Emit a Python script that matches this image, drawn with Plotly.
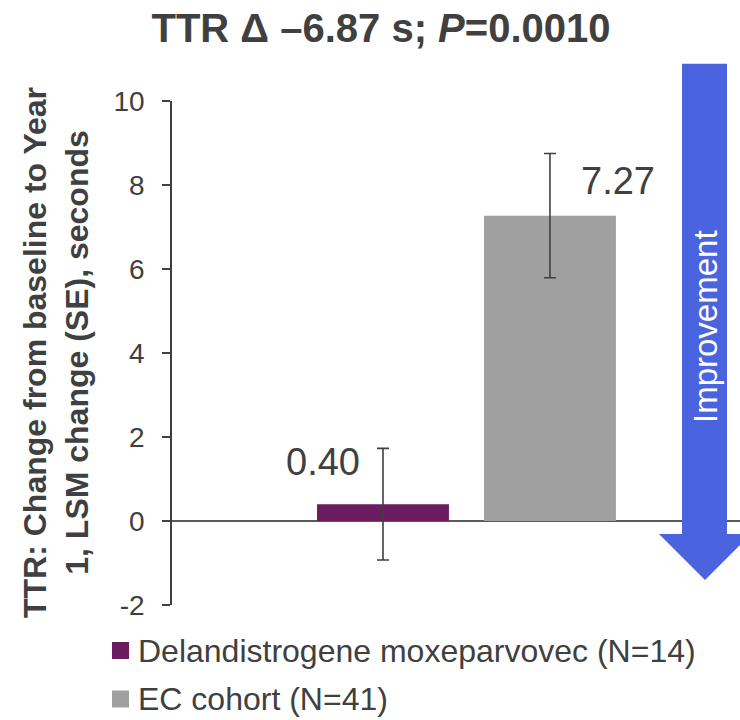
import plotly.graph_objects as go

# Time-to-rise (TTR): change from baseline to Year 1, LSM change with SE
groups = ["Delandistrogene moxeparvovec (N=14)", "EC cohort (N=41)"]
lsm_change = [0.40, 7.27]
std_error = [1.33, 1.48]
bar_colors = ["#6B1C61", "#A0A0A0"]

y_ticks = [-2, 0, 2, 4, 6, 8, 10]
y_tick_labels = [str(v) for v in y_ticks]

TEXT = "#404040"
SANS = "Liberation Sans, Arial, sans-serif"

W, H = 740, 720
M_L, M_R, M_T, M_B = 172, 0, 101, 115
PLOT_W, PLOT_H = W - M_L - M_R, H - M_T - M_B


def px_x(px):
    """Figure pixel column -> paper x."""
    return (px - M_L) / PLOT_W


def px_y(py):
    """Figure pixel row -> paper y."""
    return (H - M_B - py) / PLOT_H


positions = [i + 1 for i in range(len(groups))]

fig = go.Figure()

for pos, val, se, col, name in zip(positions, lsm_change, std_error, bar_colors, groups):
    fig.add_trace(go.Bar(
        x=[pos], y=[val], width=0.79, name=name,
        marker=dict(color=col, line=dict(width=0)),
        error_y=dict(type="data", array=[se], color=TEXT, thickness=1.6, width=6),
        showlegend=False, hoverinfo="skip",
    ))

# value labels beside each bar
label_dx = [-0.36, 0.41]
label_dy = [1.0, 0.83]
for pos, val, dx, dy in zip(positions, lsm_change, label_dx, label_dy):
    fig.add_annotation(
        x=pos + dx, y=val + dy, xref="x", yref="y",
        text=f"{val:.2f}", showarrow=False,
        font=dict(family=SANS, size=38, color=TEXT),
        xanchor="center", yanchor="middle",
    )

# key below the plot: colour swatch + group name per row
for i, (col, name) in enumerate(zip(bar_colors, groups)):
    cy = 650.5 + i * 48.5
    fig.add_shape(
        type="rect", xref="paper", yref="paper",
        x0=px_x(112), x1=px_x(129), y0=px_y(cy + 8.5), y1=px_y(cy - 8.5),
        fillcolor=col, line=dict(width=0),
    )
    fig.add_annotation(
        x=px_x(136), y=px_y(cy), xref="paper", yref="paper",
        text=name, showarrow=False,
        font=dict(family=SANS, size=32, color=TEXT),
        xanchor="left", yanchor="middle",
    )

# direction-of-improvement arrow on the right
arrow = [(682, 63.7), (727, 63.7), (727, 534), (751, 534),
         (705, 580), (659, 534), (682, 534)]
fig.add_shape(
    type="path", xref="paper", yref="paper", layer="above",
    path="M " + " L ".join(f"{px_x(a):.4f} {px_y(b):.4f}" for a, b in arrow) + " Z",
    fillcolor="#4A64DF", line=dict(width=0),
)
fig.add_annotation(
    x=px_x(705), y=px_y(327), xref="paper", yref="paper",
    text="Improvement", textangle=-90, showarrow=False,
    font=dict(family=SANS, size=33, color="white"),
    xanchor="center", yanchor="middle",
)

# y-axis title
fig.add_annotation(
    x=px_x(56), y=px_y(353), xref="paper", yref="paper",
    text="TTR: Change from baseline to Year<br>1, LSM change (SE), seconds",
    textangle=-90, showarrow=False,
    font=dict(family=SANS, size=32, color=TEXT, weight="bold"),
    xanchor="center", yanchor="middle",
)

fig.update_layout(
    width=W, height=H,
    margin=dict(l=M_L, r=M_R, t=M_T, b=M_B),
    paper_bgcolor="white", plot_bgcolor="white",
    title=dict(
        text="TTR \u0394 \u20136.87 s; <i>P</i>=0.0010",
        x=381 / W, xanchor="center", xref="container",
        y=1 - 28 / H, yanchor="middle", yref="container",
        font=dict(family=SANS, size=40, color=TEXT, weight="bold"),
    ),
    xaxis=dict(range=[-0.2635, 3.138], visible=False, fixedrange=True),
    yaxis=dict(
        range=[-2, 10], tickvals=y_ticks, ticktext=y_tick_labels,
        showgrid=False, showline=True, linecolor=TEXT, linewidth=1.5,
        ticks="outside", ticklen=8, tickwidth=1.5, tickcolor=TEXT,
        ticklabelstandoff=12,
        tickfont=dict(family=SANS, size=28, color=TEXT),
        zeroline=True, zerolinecolor="#5A5A5A", zerolinewidth=1.6,
        fixedrange=True,
    ),
    showlegend=False,
)

fig.write_html("out.html")
